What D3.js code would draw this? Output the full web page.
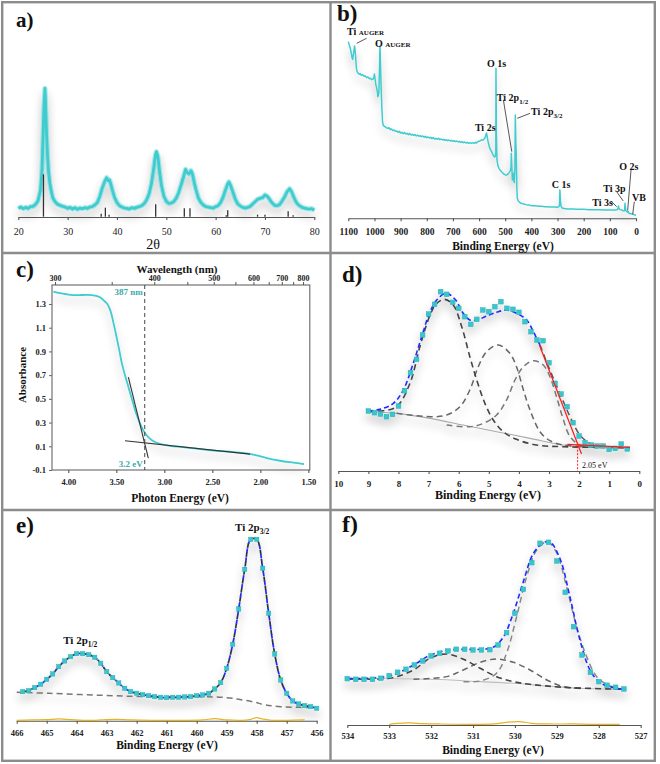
<!DOCTYPE html>
<html><head><meta charset="utf-8">
<script src="https://cdn.jsdelivr.net/npm/d3@7"></script>
<style>body{margin:0;background:#fff}svg{display:block}</style>
</head><body><svg id="fig" width="660" height="764"></svg>
<script>
// ---------------- DATA ----------------
// a) XRD pattern: [2theta, intensity a.u.]
const xrd = [[20,25],[20.5,29],[21,24],[21.5,28],[22,25],[22.5,30],[23,31],[23.5,37],[24,48],[24.5,80],[24.8,140],[25.0,230],[25.2,330],[25.4,385],[25.55,330],[25.7,260],[25.9,190],[26.1,140],[26.4,100],[26.7,75],[27.0,56],[27.5,44],[28,37],[28.5,34],[29,31],[29.5,29],[30,25],[30.5,28],[31,23],[31.5,27],[32,22],[32.5,26],[33,24],[33.5,27],[34,25],[34.5,29],[35,30],[35.5,35],[36,42],[36.5,60],[37,85],[37.5,105],[37.9,117],[38.2,108],[38.5,110],[38.8,95],[39.1,78],[39.5,58],[40,42],[40.5,33],[41,29],[41.5,26],[42,25],[42.5,23],[43,27],[43.5,25],[44,28],[44.5,30],[45,33],[45.5,39],[46,50],[46.5,68],[47,100],[47.5,150],[47.8,185],[48.0,195],[48.3,180],[48.6,140],[49,95],[49.5,62],[50,46],[50.5,40],[51,41],[51.5,45],[52,55],[52.5,72],[53,95],[53.5,120],[53.9,142],[54.2,133],[54.6,128],[55.0,138],[55.3,128],[55.7,100],[56,82],[56.5,56],[57,43],[57.5,35],[58,30],[58.5,29],[59,27],[59.5,26],[60,30],[60.5,33],[61,42],[61.5,58],[62,80],[62.4,97],[62.7,104],[63,95],[63.3,82],[63.7,65],[64,52],[64.5,38],[65,32],[65.5,28],[66,26],[66.5,28],[67,31],[67.5,38],[68,45],[68.5,52],[69,55],[69.5,57],[70,65],[70.4,62],[70.8,55],[71.2,46],[71.6,39],[72,34],[72.5,33],[73,37],[73.5,48],[74,60],[74.5,75],[75,84],[75.4,75],[75.8,60],[76.2,47],[76.6,38],[77,33],[77.5,28],[78,26],[78.5,24],[79,23],[79.5,24],[80,19]];
const refPos = [25.1,36.8,37.65,38.4,47.85,53.65,54.8,62.15,62.45,68.5,70.0,74.7,75.7];
const refInt = [127,9,27,6,37,25,25,4,19,6,6,16,4];
const ticksA = [20,30,40,50,60,70,80];

// b) XPS survey: [binding energy eV, counts a.u.]
const survey = [[1100,530],[1097,522],[1094,515],[1091,505],[1088,492],[1085,480],[1083,477],[1081,490],[1078,505],[1076,517],[1074,505],[1072,485],[1070,460],[1068,445],[1065,438],[1062,435],[1058,432],[1054,434],[1050,429],[1045,431],[1040,426],[1035,427],[1030,422],[1025,424],[1020,419],[1015,420],[1010,416],[1005,418],[1002,425],[1000,433],[998,420],[995,402],[992,392],[989,380],[987,365],[985,370],[983,378],[981,440],[979,517],[977,470],[975,405],[973,360],[971,318],[969,290],[967,280],[964,277],[960,275],[955,272],[950,270],[945,272],[940,266],[935,268],[930,263],[925,265],[920,261],[915,262],[910,258],[905,261],[900,256],[895,258],[890,254],[885,257],[880,253],[875,255],[870,251],[865,254],[860,250],[855,252],[850,249],[845,251],[840,247],[835,250],[830,246],[825,248],[820,245],[815,247],[810,243],[805,246],[800,242],[795,244],[790,241],[785,243],[780,239],[775,242],[770,238],[765,240],[760,237],[755,240],[750,236],[745,238],[740,235],[735,237],[730,234],[725,236],[720,233],[715,235],[710,232],[705,234],[700,231],[695,233],[690,230],[685,232],[680,229],[675,231],[670,228],[665,230],[660,227],[655,229],[650,226],[645,228],[640,225],[635,227],[630,225],[625,227],[620,225],[615,228],[610,226],[605,230],[600,231],[595,233],[590,235],[584,235],[578,240],[574,250],[571.5,256],[569,245],[566,232],[561,215],[556,205],[552,200],[548,193],[545,188],[541,184],[538,186],[536,200],[535.4,450],[533.5,250],[531.5,175],[528,158],[524,150],[518,143],[512,138],[506,133],[500,130],[494,130],[488,134],[482,140],[478,150],[476.7,195],[474.5,150],[472.9,115],[470.5,128],[469,135],[467,112],[465.3,107],[463,150],[461.4,310],[459.5,230],[457.6,185],[455.5,90],[453.8,60],[450,52],[445,48],[440,45],[435,44],[430,43],[420,41],[410,40],[400,38],[390,38],[380,37],[370,36],[360,36],[350,35],[340,35],[330,34],[320,34],[310,34],[300,33],[295,35],[292.5,40],[291,85],[289,55],[287,38],[284,32],[280,30],[270,29],[260,28],[250,28],[240,28],[230,27],[220,27],[210,27],[200,27],[180,26],[160,26],[140,26],[120,25],[100,25],[90,25],[80,25],[72,26],[69,30],[67,37],[65,28],[60,26],[55,25],[50,23],[46,22],[43.5,25],[42,45],[40,28],[38,22],[35,20],[32,18],[29,20],[27,15],[24,14],[20,14],[16,13],[12,12],[8,11],[4,10],[0,9]];
const ticksB = [1100,1000,900,800,700,600,500,400,300,200,100,0];
// label anchors [E, counts]
const surveyLabels = [
  {t:"O 1s", e:570, c:454},{t:"Ti 2s", e:616, c:262},{t:"C 1s", e:322, c:91},
  {t:"Ti 3s", e:167, c:37},{t:"Ti 3p", e:125, c:80},{t:"O 2s", e:64, c:145},{t:"VB", e:15, c:52}];
const surveyLeaders = [[[1068,525],[1030,540]],[[507,355],[475,200]],[[454,300],[405,315]],[[96,52],[74,35]],[[74,80],[49,52]],[[19,145],[32,23]],[[6.5,50],[12.6,12]]];

// c) UV-Vis absorbance: [photon energy eV, absorbance]
const uvvis = [[4.156,1.405],[4.087,1.391],[4.017,1.382],[3.913,1.374],[3.809,1.377],[3.722,1.371],[3.670,1.356],[3.625,1.325],[3.594,1.300],[3.560,1.240],[3.531,1.145],[3.497,1.019],[3.472,0.921],[3.441,0.795],[3.406,0.689],[3.372,0.594],[3.337,0.496],[3.302,0.398],[3.267,0.320],[3.233,0.255],[3.198,0.208],[3.156,0.169],[3.108,0.141],[3.045,0.121],[2.941,0.104],[2.802,0.093],[2.628,0.076],[2.455,0.062],[2.281,0.051],[2.142,0.040],[2.038,0.023],[1.934,0.001],[1.795,-0.022],[1.656,-0.038],[1.545,-0.050]];
const tangentSteep = [[3.375,0.683],[3.167,0.0]];
const tangentFlat = [[3.410,0.146],[2.108,0.034]];
const edgeNm = 387;
const ticksCy = [-0.1,0.1,0.3,0.5,0.7,0.9,1.1,1.3];
const ticksCx = [4.0,3.5,3.0,2.5,2.0,1.5];
const ticksNm = [300,350,400,450,500,550,600,650,700,750,800];
const labelsNm = [300,400,500,600,700,800];

// d) valence band: [BE eV, counts a.u.]
const vbData = [[9.0,167],[8.8,162],[8.6,158],[8.4,150],[8.2,157],[8.0,182],[7.8,228],[7.6,282],[7.4,322],[7.2,395],[7.0,458],[6.8,487],[6.6,525],[6.4,517],[6.2,493],[6.0,475],[5.8,450],[5.6,427],[5.4,442],[5.2,470],[5.0,465],[4.8,480],[4.6,495],[4.4,475],[4.2,472],[4.0,463],[3.8,435],[3.6,405],[3.4,380],[3.2,378],[3.0,312],[2.8,250],[2.6,218],[2.4,180],[2.2,132],[2.0,92],[1.8,72],[1.6,65],[1.4,62],[1.2,62],[1.0,52],[0.8,55],[0.6,68],[0.4,53]];
const vbBg = [[9.0,165],[8.06,160],[6.95,145],[5.85,125],[4.74,105],[3.63,85],[2.52,65],[1.42,58],[0.31,56]];
const vbC1 = [[9.0,165],[8.5,168],[8.06,180],[7.62,250],[7.29,360],[6.95,455],[6.73,490],[6.46,502],[6.18,485],[5.90,420],[5.63,330],[5.40,260],[5.13,190],[4.85,140],[4.52,105],[4.08,82],[3.41,65],[2.52,60],[1.42,58]];
const vbC2 = [[8.06,160],[6.95,150],[6.40,155],[5.96,180],[5.63,230],[5.35,300],[5.07,345],[4.68,365],[4.30,340],[4.08,300],[3.85,230],[3.63,170],[3.30,105],[2.97,78],[2.52,65],[1.86,60]];
const vbC3 = [[6.40,125],[5.63,120],[5.18,130],[4.74,155],[4.41,200],[4.13,260],[3.85,300],[3.52,318],[3.19,305],[2.97,270],[2.75,210],[2.52,140],[2.30,90],[1.97,65],[1.42,58]];
const vbFit = [[9.0,167],[8.62,172],[8.17,190],[7.84,230],[7.51,310],[7.23,390],[6.95,465],[6.73,500],[6.42,520],[6.12,502],[5.85,460],[5.63,440],[5.40,440],[5.07,452],[4.74,463],[4.41,470],[4.08,460],[3.74,440],[3.52,405],[3.30,365]];
const vbTail = [[3.30,365],[2.97,290],[2.64,220],[2.30,150],[1.97,95],[1.64,70],[1.20,60],[0.31,56]];
const vbEdgeLine = [[3.32,365],[1.92,38]];
const vbBaseLine = [[2.39,67],[0.31,58]];
const vbMax = 2.05;
const ticksD = [10,9,8,7,6,5,4,3,2,1,0];

// e) Ti 2p: [BE eV, counts a.u.]
const ti2p = [[465.8,125],[465.6,128],[465.4,137],[465.2,147],[465.0,162],[464.8,178],[464.6,200],[464.4,217],[464.2,230],[464.0,239],[463.8,239],[463.6,236],[463.4,228],[463.2,210],[463.0,185],[462.8,167],[462.6,151],[462.4,135],[462.2,125],[462.0,120],[461.8,116],[461.6,113],[461.4,110],[461.2,108],[461.0,107],[460.8,108],[460.6,108],[460.4,109],[460.2,110],[460.0,113],[459.8,115],[459.6,120],[459.4,133],[459.2,152],[459.0,195],[458.8,267],[458.6,373],[458.4,492],[458.2,582],[458.0,582],[457.8,495],[457.6,360],[457.4,238],[457.2,160],[457.0,120],[456.8,97],[456.6,88],[456.4,83],[456.2,80],[456.0,75]];
const ti2pBg = [[466,123],[464.9,120],[463.2,114],[461.6,110],[459.9,110],[459.0,107],[458.6,102],[458.1,94],[457.7,85],[457.2,80],[456.6,78],[456.0,77]];
const ti2pRes = [[466,39],[465.5,40],[465.0,41],[464.6,43],[464.2,41],[463.8,39],[463.2,40],[462.7,42],[462.2,40],[461.5,39],[460.5,39],[459.8,40],[459.4,44],[459.0,40],[458.5,39],[458.2,42],[458.0,47],[457.8,43],[457.5,39],[457,39],[456.4,40]];
const ticksE = [466,465,464,463,462,461,460,459,458,457,456];

// f) O 1s: [BE eV, counts a.u.]
const o1s = [[534.0,164],[533.8,162],[533.6,162],[533.4,162],[533.2,165],[533.0,173],[532.8,183],[532.6,192],[532.4,205],[532.2,217],[532.0,232],[531.8,240],[531.6,247],[531.4,252],[531.2,252],[531.0,250],[530.8,250],[530.6,251],[530.4,265],[530.2,302],[530.0,360],[529.8,432],[529.6,512],[529.4,570],[529.2,573],[529.0,517],[528.8,423],[528.6,320],[528.4,235],[528.2,183],[528.0,155],[527.8,144],[527.6,138],[527.4,133]];
const o1sBg = [[534,165],[532.03,162],[530.83,155],[530.04,150],[529.24,142],[528.45,135],[527.41,132]];
const o1sA = [[534,164],[533,165],[532.42,190],[532.03,225],[531.63,238],[531.23,222],[530.83,195],[530.44,170],[530.04,155],[529.64,147],[528.84,138],[527.41,132]];
const o1sB = [[532.42,162],[531.63,170],[531.23,190],[530.83,213],[530.44,223],[530.04,213],[529.64,190],[529.24,160],[528.84,140],[528.37,134]];
const o1sC = [[531.23,155],[530.83,157],[530.44,180],[530.2,240],[529.96,350],[529.72,470],[529.48,550],[529.23,575],[529.0,540],[528.77,440],[528.53,320],[528.29,230],[528.05,170],[527.73,142],[527.41,132]];
const o1sFit = [[534,164],[533,172],[532.42,205],[532.03,234],[531.63,249],[531.23,252],[530.83,252],[530.52,258],[530.28,288],[530.04,360],[529.8,455],[529.56,540],[529.32,572],[529.16,574],[528.92,522],[528.69,410],[528.45,280],[528.21,190],[527.97,152],[527.65,137],[527.41,132]];
const o1sRes = [[533,27],[532.8,30],[532.5,31],[532.2,29],[531.8,28],[531,27],[530.5,28],[530.2,33],[529.9,35],[529.6,30],[529.2,28],[528.6,28],[528.2,27],[527.5,27]];
const ticksF = [534,533,532,531,530,529,528,527];

// ---------------- DRAWING ----------------
const FONT = "'Liberation Serif','DejaVu Serif',serif";
const TEAL = "#3fcccf", SQ = "#38c6cc", BLUE = "#1f2cff", AX = "#555", FRAME = "#8c8c8c";
const svg = d3.select("#fig").attr("font-family", FONT);

const defs = svg.append("defs");
const f = defs.append("filter").attr("id","sh").attr("x","-20%").attr("y","-20%").attr("width","140%").attr("height","170%");
f.append("feGaussianBlur").attr("in","SourceAlpha").attr("stdDeviation",5);
f.append("feOffset").attr("dy",6);
f.append("feComponentTransfer").append("feFuncA").attr("type","linear").attr("slope",0.28);
const fm = f.append("feMerge"); fm.append("feMergeNode"); fm.append("feMergeNode").attr("in","SourceGraphic");

const L = (x,y,c) => d3.line().x(d=>x(d[0])).y(d=>y(d[1])).curve(c||d3.curveLinear);

function bottomAxis(g, x, y0, ticks, fmt, o) {
  const ax = g.append("g").attr("transform",`translate(0,${y0})`)
    .call(d3.axisBottom(x).tickValues(ticks).tickSize(o.ts||3).tickSizeOuter(0).tickFormat(fmt));
  ax.select(".domain").attr("stroke",AX).attr("stroke-width",1.1);
  ax.selectAll(".tick line").attr("stroke",AX).attr("stroke-width",1.1);
  ax.selectAll("text").attr("font-family",FONT).attr("font-size",o.fs||9).attr("font-weight",o.fw||"bold")
    .attr("fill","#222").attr("dy",null).attr("y",o.ly);
  return ax;
}
function txt(g, s, x, y, o) {
  return g.append("text").attr("x",x).attr("y",y).attr("font-size",o.fs).attr("font-weight",o.fw||"bold")
    .attr("text-anchor",o.a||"start").attr("fill",o.c||"#111").text(s);
}
function squares(g, data, x, y, s) {
  g.selectAll(null).data(data).join("rect").attr("x",d=>x(d[0])-s/2).attr("y",d=>y(d[1])-s/2)
    .attr("width",s).attr("height",s).attr("fill",SQ).attr("stroke","#2aa9b0").attr("stroke-width",0.4);
}
function path(g, data, gen, stroke, w, dash, off) {
  return g.append("path").datum(data).attr("d",gen).attr("fill","none").attr("stroke",stroke)
    .attr("stroke-width",w).attr("stroke-dasharray",dash||null).attr("stroke-dashoffset",off||0);
}

// frame
svg.append("rect").attr("x",2.2).attr("y",2.2).attr("width",652.6).attr("height",758.6).attr("fill","none").attr("stroke",FRAME).attr("stroke-width",2.4);
svg.append("line").attr("x1",330.5).attr("x2",330.5).attr("y1",2).attr("y2",761).attr("stroke",FRAME).attr("stroke-width",2.4);
[253,510].forEach(y=>svg.append("line").attr("x1",2).attr("x2",655).attr("y1",y).attr("y2",y).attr("stroke",FRAME).attr("stroke-width",2.4));

// ---- a) ----
{
  const g = svg.append("g");
  const x = d3.scaleLinear([20,80],[18.3,314.3]);
  const y = d3.scaleLinear([0,400],[216.7,83.3]);
  const gs = g.append("g").attr("filter","url(#sh)");
  path(gs, xrd, L(x,y), TEAL, 5.2).attr("stroke-linejoin","round").attr("stroke-opacity",0.4);
  path(gs, xrd, L(x,y), TEAL, 2.8).attr("stroke-linejoin","round");
  g.selectAll(null).data(refPos).join("line").attr("x1",d=>x(d)).attr("x2",d=>x(d))
    .attr("y1",y(0)).attr("y2",(d,i)=>y(refInt[i])).attr("stroke","#333").attr("stroke-width",1.3);
  bottomAxis(g, x, 217, ticksA, d=>d, {fs:10, fw:"normal", ly:18});
  txt(g,"2θ",153,249,{fs:14,fw:"normal",a:"middle"});
  txt(g,"a)",16,27,{fs:21});
}

// ---- b) ----
{
  const g = svg.append("g");
  const x = d3.scaleLinear([1100,0],[348.3,636]);
  const y = d3.scaleLinear([0,655],[218.3,0]);
  const gs = g.append("g").attr("filter","url(#sh)");
  path(gs, survey, L(x,y), TEAL, 1.5).attr("stroke-linejoin","round");
  bottomAxis(g, x, 218.3, ticksB, d=>d, {fs:9.5, ly:17});
  txt(g,"Binding Energy (eV)",503,249.5,{fs:11.5,a:"middle"});
  surveyLeaders.forEach(s=>path(g, s, L(x,y), "#444", 0.9));
  surveyLabels.forEach(l=>txt(g,l.t,x(l.e),y(l.c),{fs:10}));
  const t1 = txt(g,"Ti ",x(1105),y(550),{fs:10}); t1.append("tspan").attr("font-size",7).text("AUGER");
  const t2 = txt(g,"O ",x(998),y(514),{fs:10}); t2.append("tspan").attr("font-size",7).text("AUGER");
  const t3 = txt(g,"Ti 2p",x(532),y(352),{fs:10}); t3.append("tspan").attr("font-size",7).attr("dy",3).text("1/2");
  const t4 = txt(g,"Ti 2p",x(401),y(310),{fs:10}); t4.append("tspan").attr("font-size",7).attr("dy",3).text("3/2");
  txt(g,"b)",337,21,{fs:23});
}

// ---- c) ----
{
  const g = svg.append("g");
  const x = d3.scaleLinear([4.17,1.485],[52,309.8]);
  const y = d3.scaleLinear([-0.1,1.46],[470,285]);
  g.append("rect").attr("x",52).attr("y",285).attr("width",257.8).attr("height",185).attr("fill","none").attr("stroke","#666").attr("stroke-width",1.1);
  const gs = g.append("g").attr("filter","url(#sh)");
  path(gs, uvvis, L(x,y,d3.curveCatmullRom), TEAL, 1.8);
  path(g, tangentSteep, L(x,y), "#333", 1.1);
  path(g, tangentFlat, L(x,y), "#333", 1.1);
  const eEdge = 1240/edgeNm;
  g.append("line").attr("x1",x(eEdge)).attr("x2",x(eEdge)).attr("y1",y(1.46)).attr("y2",y(-0.1))
    .attr("stroke","#444").attr("stroke-width",1).attr("stroke-dasharray","4,3");
  txt(g,edgeNm+" nm",x(eEdge)-2,y(1.375),{fs:9,a:"end",c:"#3aa9ab"});
  txt(g,"3.2 eV",x(eEdge)-2,y(-0.075),{fs:9,a:"end",c:"#3aa9ab"});
  const la = g.append("g").attr("transform","translate(52,0)")
    .call(d3.axisLeft(y).tickValues(ticksCy).tickSize(3).tickSizeOuter(0).tickFormat(d=>d.toFixed(1)));
  la.select(".domain").remove();
  la.selectAll(".tick line").attr("stroke","#666");
  la.selectAll("text").attr("font-family",FONT).attr("font-size",8.5).attr("font-weight","bold").attr("fill","#222");
  const ba = bottomAxis(g, x, 470, ticksCx, d=>d.toFixed(2), {fs:8.5, ly:15});
  ba.select(".domain").remove();
  g.selectAll(null).data(ticksNm).join("line").attr("x1",d=>x(1240/d)).attr("x2",d=>x(1240/d))
    .attr("y1",285).attr("y2",282).attr("stroke","#555");
  g.selectAll(null).data(labelsNm).join("text").attr("x",d=>x(1240/d)).attr("y",281)
    .attr("text-anchor","middle").attr("font-size",8).attr("font-weight","bold").attr("fill","#222").text(d=>d);
  txt(g,"Wavelength (nm)",177,273,{fs:11,a:"middle"});
  txt(g,"Photon Energy (eV)",180,502,{fs:11.5,a:"middle"});
  g.append("text").attr("transform","translate(26,375) rotate(-90)").attr("text-anchor","middle")
    .attr("font-size",11).attr("font-weight","bold").attr("fill","#111").text("Absorbance");
  txt(g,"c)",16,277,{fs:23});
}

// ---- d) ----
{
  const g = svg.append("g");
  const x = d3.scaleLinear([10,0],[338.3,639.3]);
  const y = d3.scaleLinear([0,650],[466.7,250]);
  const C = d3.curveCatmullRom;
  const gs = g.append("g").attr("filter","url(#sh)");
  path(gs, vbBg, L(x,y,C), "#aaa", 1.1);
  path(gs, vbC3, L(x,y,C), "#777", 1.5, "6,4");
  path(gs, vbC2, L(x,y,C), "#666", 1.5, "6,4");
  path(gs, vbC1, L(x,y,C), "#444", 1.6, "6,4");
  path(gs, vbFit, L(x,y,C), BLUE, 1.6, "5,3");
  path(gs, vbTail, L(x,y,C), "#555", 1.5, "6,4");
  squares(gs, vbData, x, y, 4.8);
  path(g, vbEdgeLine, L(x,y), "#ff1a1a", 1.2);
  path(g, vbBaseLine, L(x,y), "#ff1a1a", 1.2);
  g.append("line").attr("x1",x(vbMax)).attr("x2",x(vbMax)).attr("y1",y(72)).attr("y2",471)
    .attr("stroke","#ff1a1a").attr("stroke-width",1).attr("stroke-dasharray","2,1.5");
  txt(g,vbMax.toFixed(2)+" eV",x(1.9),y(-4),{fs:8,fw:"normal"});
  bottomAxis(g, x, 471, ticksD, d=>d, {fs:9, ly:16});
  txt(g,"Binding Energy (eV)",488,499,{fs:12,a:"middle"});
  txt(g,"d)",342,282,{fs:23});
}

// ---- e) ----
{
  const g = svg.append("g");
  const x = d3.scaleLinear([466,456],[16.7,316.7]);
  const y = d3.scaleLinear([0,700],[733.3,500]);
  const C = d3.curveCatmullRom;
  const gs = g.append("g").attr("filter","url(#sh)");
  path(gs, ti2pBg, L(x,y,C), "#777", 1.5, "6,4");
  path(gs, ti2p, L(x,y,C), "#333", 1.7, "5,4");
  path(gs, ti2p, L(x,y,C), BLUE, 1.7, "4,5", 4.5);
  squares(gs, ti2p, x, y, 4.4);
  bottomAxis(g, x, 720.7, ticksE, d=>d, {fs:8.5, ly:15});
  path(g, ti2pRes, L(x,y,C), "#e6b422", 1.2);
  txt(g,"Binding Energy (eV)",167,749,{fs:11.5,a:"middle"});
  const t1 = txt(g,"Ti 2p",x(458.72),y(607),{fs:11}); t1.append("tspan").attr("font-size",7.5).attr("dy",3).text("3/2");
  const t2 = txt(g,"Ti 2p",x(464.45),y(268),{fs:11}); t2.append("tspan").attr("font-size",7.5).attr("dy",3).text("1/2");
  txt(g,"e)",16,533,{fs:23});
}

// ---- f) ----
{
  const g = svg.append("g");
  const x = d3.scaleLinear([534,527],[347.3,640.7]);
  const y = d3.scaleLinear([0,700],[733.3,500]);
  const C = d3.curveCatmullRom;
  const gs = g.append("g").attr("filter","url(#sh)");
  path(gs, o1sBg, L(x,y,C), "#bbb", 1.1);
  path(gs, o1sB, L(x,y,C), "#666", 1.5, "6,4");
  path(gs, o1sC, L(x,y,C), "#888", 1.5, "6,4");
  path(gs, o1sA, L(x,y,C), "#444", 1.6, "6,4");
  path(gs, o1sFit, L(x,y,C), BLUE, 1.6, "5,3");
  squares(gs, o1s, x, y, 4.8);
  bottomAxis(g, x, 725, ticksF, d=>d, {fs:8.5, ly:14});
  path(g, o1sRes, L(x,y,C), "#e6b422", 1.2);
  txt(g,"Binding Energy (eV)",493,754,{fs:11.5,a:"middle"});
  txt(g,"f)",342,532,{fs:24});
}
</script></body></html>
